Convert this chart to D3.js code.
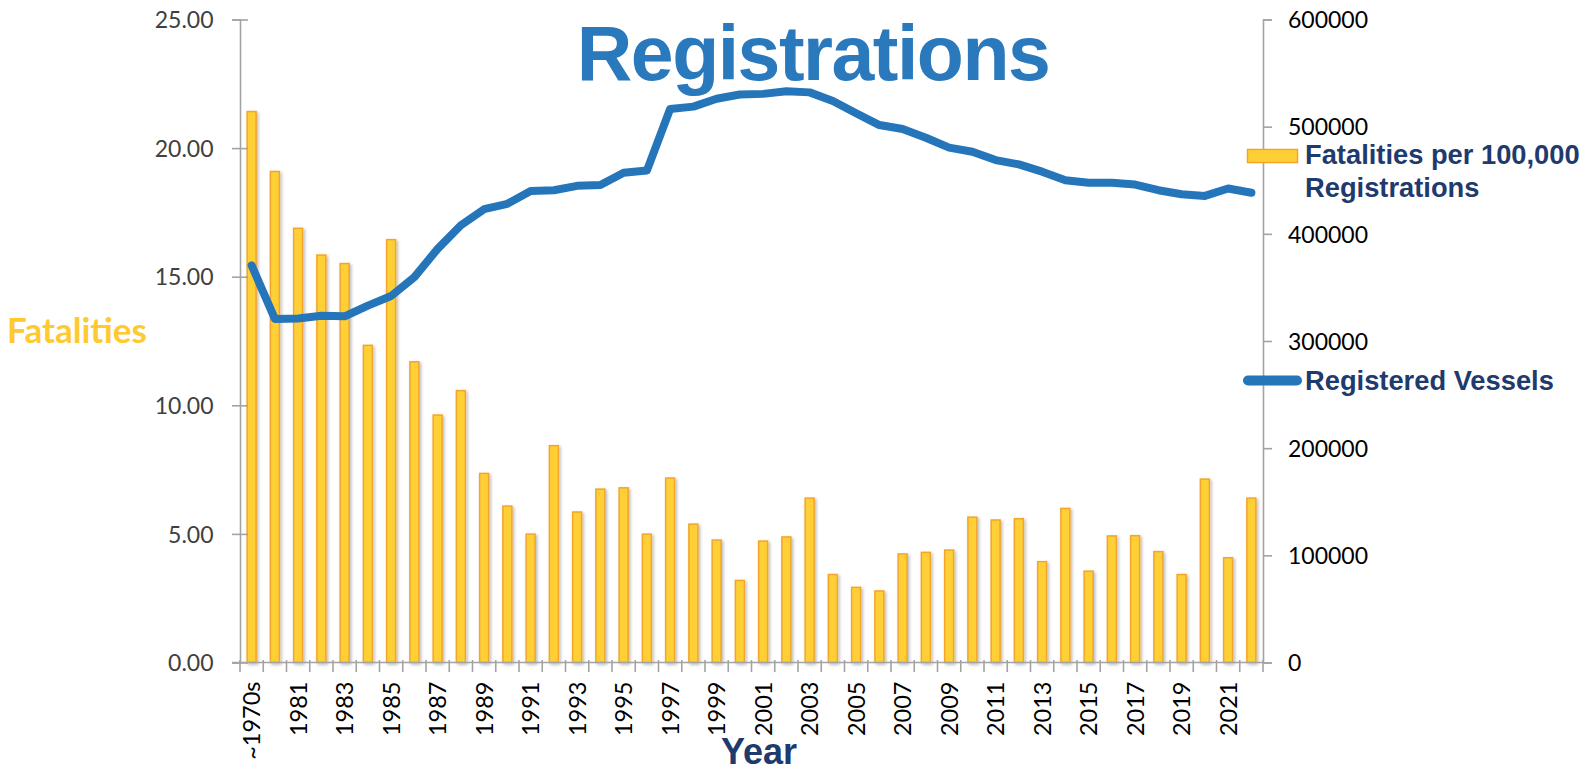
<!DOCTYPE html>
<html>
<head>
<meta charset="utf-8">
<script src="https://cdn.jsdelivr.net/npm/d3@7"></script>
<style>
  html, body { margin: 0; padding: 0; background: #ffffff; overflow: hidden; }
  svg { display: block; }
</style>
</head>
<body>
<svg id="chart" width="1596" height="769"></svg>
<script>
// ---------------- DATA ----------------
const categories = ["~1970s","1980","1981","1982","1983","1984","1985","1986","1987","1988","1989",
  "1990","1991","1992","1993","1994","1995","1996","1997","1998","1999","2000","2001","2002","2003",
  "2004","2005","2006","2007","2008","2009","2010","2011","2012","2013","2014","2015","2016","2017",
  "2018","2019","2020","2021","2022"];

// Fatalities per 100,000 registrations (left axis)
const fatalityRate = [21.45,19.12,16.91,15.87,15.54,12.36,16.47,11.72,9.65,10.60,7.38,
  6.11,5.02,8.46,5.88,6.77,6.82,5.02,7.20,5.41,4.79,3.22,4.75,4.91,6.42,
  3.45,2.95,2.81,4.25,4.31,4.40,5.68,5.57,5.62,3.95,6.02,3.58,4.95,4.96,
  4.34,3.45,7.16,4.10,6.42];

// Registered vessels (right axis)
const registeredVessels = [370500,320600,321000,323500,323000,333000,342000,359600,386000,408000,423000,
  428000,440000,440700,444800,445500,457000,459000,516500,518700,526000,530000,530600,533000,532000,
  524000,512500,501500,497800,489700,480400,476600,468800,464800,458000,450000,447600,447600,446000,
  440700,437000,435400,442300,438300];

const leftTicks = [0, 5, 10, 15, 20, 25];
const rightTicks = [0, 100000, 200000, 300000, 400000, 500000, 600000];
const xLabelEvery = 2;

const titleText = "Registrations";
const yLeftTitle = "Fatalities";
const xTitle = "Year";
const seriesNames = ["Fatalities per 100,000", "Registrations", "Registered Vessels"];

// ---------------- LAYOUT / STYLE ----------------
const plotLeft = 240, plotRight = 1263, plotTop = 19.5, plotBottom = 662.5;
const barFill = "#FFD035", barStroke = "#F2A52B";
const lineColor = "#2575BA";
const navy = "#1F3A6C";
const axisColor = "#A3A3A3";
const tickFont = "Lato, 'Open Sans', sans-serif";
const boldFont = "'Liberation Sans', Arial, sans-serif";

const svg = d3.select("#chart");

const defs = svg.append("defs");
const f = defs.append("filter").attr("id", "shadow").attr("x", "-50%").attr("y", "-10%")
  .attr("width", "200%").attr("height", "120%");
f.append("feDropShadow").attr("dx", 1.5).attr("dy", 1.5).attr("stdDeviation", 1.6)
  .attr("flood-color", "#000").attr("flood-opacity", 0.28);

const x = d3.scaleBand().domain(categories).range([plotLeft, plotRight])
  .paddingInner(0.55).paddingOuter(0.275);
const yL = d3.scaleLinear().domain([0, 25]).range([plotBottom, plotTop]);
const yR = d3.scaleLinear().domain([0, 600000]).range([plotBottom, plotTop]);

// ---------------- TITLE ----------------
svg.append("text")
  .attr("x", 813).attr("y", 79.5)
  .attr("text-anchor", "middle")
  .attr("font-family", boldFont).attr("font-weight", "bold")
  .attr("font-size", 77).attr("letter-spacing", "-1.5px")
  .attr("fill", "#2A79BD")
  .text(titleText);

// ---------------- BARS ----------------
svg.append("g").attr("filter", "url(#shadow)")
  .selectAll("rect").data(categories).join("rect")
  .attr("x", d => x(d) + 0.75)
  .attr("width", x.bandwidth() - 1.5)
  .attr("y", (d, i) => yL(fatalityRate[i]) + 0.75)
  .attr("height", (d, i) => Math.max(0, plotBottom - yL(fatalityRate[i]) - 0.75))
  .attr("fill", barFill)
  .attr("stroke", barStroke)
  .attr("stroke-width", 1.5);

// ---------------- AXES ----------------
// Left axis
const gL = svg.append("g").attr("transform", `translate(${plotLeft},0)`)
  .call(d3.axisLeft(yL).tickValues(leftTicks).tickFormat(d3.format(".2f"))
    .tickSize(8).tickPadding(18.5));
gL.select(".domain").attr("stroke", axisColor).attr("stroke-width", 1.6);
gL.selectAll(".tick line").attr("x1", 8).attr("stroke", axisColor).attr("stroke-width", 1.6);
gL.selectAll(".tick text").attr("font-family", tickFont).attr("font-size", 23)
  .attr("fill", "#404040").attr("dy", "0.36em");

// Right axis
const gR = svg.append("g").attr("transform", `translate(${plotRight},0)`)
  .call(d3.axisRight(yR).tickValues(rightTicks).tickFormat(d3.format("d"))
    .tickSize(9).tickPadding(16));
gR.select(".domain").attr("stroke", axisColor).attr("stroke-width", 1.6);
gR.selectAll(".tick line").attr("stroke", axisColor).attr("stroke-width", 1.6);
gR.selectAll(".tick text").attr("font-family", tickFont).attr("font-size", 23)
  .attr("fill", "#000").attr("dy", "0.36em");

// Bottom axis
const labelCats = categories.filter((d, i) => i % xLabelEvery === 0);
const gB = svg.append("g").attr("transform", `translate(0,${plotBottom})`)
  .call(d3.axisBottom(x).tickValues(labelCats).tickSize(0).tickPadding(0));
gB.select(".domain").remove();
gB.append("line").attr("x1", plotLeft - 8).attr("x2", plotRight)
  .attr("stroke", axisColor).attr("stroke-width", 1.6);
gB.selectAll(".tick text")
  .attr("font-family", tickFont).attr("font-size", 23.5).attr("fill", "#000")
  .attr("transform", "rotate(-90)")
  .attr("text-anchor", "end")
  .attr("x", -19).attr("y", 0).attr("dy", "0.36em");
// category boundary ticks
const boundaries = d3.range(categories.length + 1).map(i => plotLeft + i * x.step());
gB.selectAll(".bt").data(boundaries).join("line").attr("class", "bt")
  .attr("x1", d => d).attr("x2", d => d).attr("y1", -2.5).attr("y2", 9.5)
  .attr("stroke", axisColor).attr("stroke-width", 1.6);

// ---------------- LINE ----------------
const line = d3.line()
  .x((d, i) => x(categories[i]) + x.bandwidth() / 2)
  .y(d => yR(d));
svg.append("path").datum(registeredVessels)
  .attr("d", line)
  .attr("fill", "none")
  .attr("stroke", lineColor)
  .attr("stroke-width", 8)
  .attr("stroke-linejoin", "round")
  .attr("stroke-linecap", "round");

// ---------------- AXIS TITLES ----------------
svg.append("text")
  .attr("x", 7).attr("y", 342.5)
  .attr("font-family", "Lato, sans-serif").attr("font-weight", "bold")
  .attr("font-size", 35).attr("fill", "#FFC930")
  .text(yLeftTitle);

svg.append("text")
  .attr("x", 759).attr("y", 764)
  .attr("text-anchor", "middle")
  .attr("font-family", boldFont).attr("font-weight", "bold")
  .attr("font-size", 36).attr("fill", navy)
  .text(xTitle);

// ---------------- LEGEND ----------------
const lg = svg.append("g");
lg.append("rect")
  .attr("x", 1247.5).attr("y", 149.5).attr("width", 50).attr("height", 13)
  .attr("fill", barFill).attr("stroke", barStroke).attr("stroke-width", 1.5);
lg.append("text").attr("x", 1305).attr("y", 163.5)
  .attr("font-family", boldFont).attr("font-weight", "bold")
  .attr("font-size", 27.3).attr("fill", navy)
  .text(seriesNames[0]);
lg.append("text").attr("x", 1305).attr("y", 197)
  .attr("font-family", boldFont).attr("font-weight", "bold")
  .attr("font-size", 27.3).attr("fill", navy)
  .text(seriesNames[1]);
lg.append("line")
  .attr("x1", 1248).attr("x2", 1297).attr("y1", 380.5).attr("y2", 380.5)
  .attr("stroke", lineColor).attr("stroke-width", 10).attr("stroke-linecap", "round");
lg.append("text").attr("x", 1305).attr("y", 389.5)
  .attr("font-family", boldFont).attr("font-weight", "bold")
  .attr("font-size", 27.3).attr("fill", navy)
  .text(seriesNames[2]);
</script>
</body>
</html>
